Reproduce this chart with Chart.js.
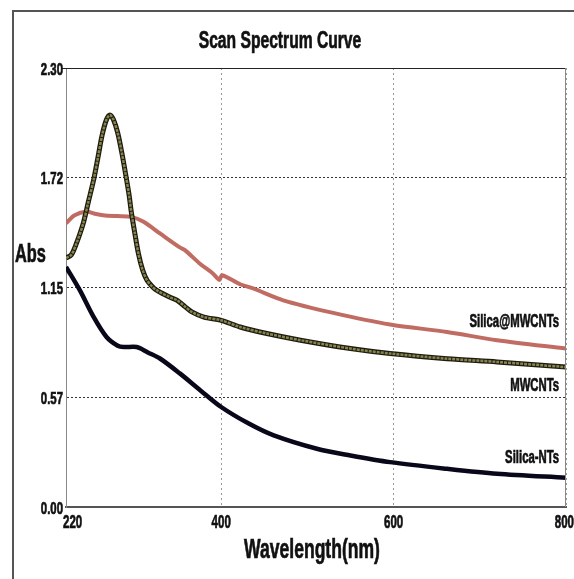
<!DOCTYPE html>
<html>
<head>
<meta charset="utf-8">
<script src="https://cdn.jsdelivr.net/npm/chart.js@4.4.1/dist/chart.umd.min.js"></script>
<style>
  html, body { margin: 0; padding: 0; background: #fff; }
  #wrap { position: relative; width: 574px; height: 579px; overflow: hidden; }
  #frame { position: absolute; left: 12px; top: 10px; width: 600px; height: 600px;
           border-left: 2px solid #555; border-top: 2px solid #555; }
  canvas { position: absolute; left: 0; top: 0; }
</style>
</head>
<body>
<div id="wrap">
  <div id="frame"></div>
  <canvas id="spectrum" width="574" height="579"></canvas>
</div>
<script>
// values
const xTicks = [220, 400, 600, 800];
const yTicks = [0, 0.575, 1.15, 1.725, 2.3];
const yTickLabels = ['0.00', '0.57', '1.15', '1.72', '2.30'];

const seriesNames = ['Silica@MWCNTs', 'MWCNTs', 'Silica-NTs'];

const wlMw = [220, 226, 232, 240, 246, 252, 257, 262, 267, 271, 275, 280, 285, 289, 293, 296, 300, 304, 309, 314, 320, 325, 340, 349, 358, 366, 380, 400, 422, 453, 492, 550, 596, 662, 720, 800];
const absMw = [1.305, 1.32, 1.38, 1.486, 1.60, 1.713, 1.83, 1.95, 2.03, 2.054, 2.03, 1.96, 1.85, 1.748, 1.64, 1.538, 1.43, 1.328, 1.24, 1.188, 1.155, 1.136, 1.10, 1.083, 1.05, 1.022, 0.995, 0.978, 0.943, 0.909, 0.874, 0.83, 0.804, 0.777, 0.76, 0.733];

const wlSiMw = [220, 230, 244, 255, 263, 279, 296, 310, 329, 352, 358, 375, 390, 398, 401, 422, 437, 472, 530, 596, 662, 720, 800];
const absSiMw = [1.486, 1.529, 1.547, 1.535, 1.529, 1.524, 1.52, 1.494, 1.433, 1.36, 1.346, 1.276, 1.225, 1.19, 1.214, 1.167, 1.145, 1.083, 1.017, 0.956, 0.917, 0.874, 0.83];

const wlSi = [220, 236, 252, 267, 280, 287, 302, 315, 329, 352, 376, 400, 432, 461, 511, 550, 596, 662, 720, 800];
const absSi = [1.258, 1.136, 0.996, 0.891, 0.845, 0.838, 0.838, 0.81, 0.778, 0.70, 0.611, 0.524, 0.437, 0.375, 0.305, 0.27, 0.235, 0.2, 0.174, 0.153];

const FONT = '"Liberation Sans", Arial, sans-serif';

function pts(xs, ys) {
    return xs.map((x, i) => ({ x: x, y: ys[i] }));
}

// Arial squeezed horizontally, to look like the narrow face of the original
function narrowText(ctx, text, x, y, size, sx, align) {
    ctx.save();
    ctx.font = 'bold ' + size + 'px ' + FONT;
    ctx.textAlign = align;
    ctx.translate(x, y);
    ctx.scale(sx, 1);
    ctx.fillText(text, 0, 0);
    ctx.lineWidth = 0.7;
    ctx.strokeStyle = '#111';
    ctx.strokeText(text, 0, 0);
    ctx.restore();
}

const annotations = {
    id: 'annotations',
    afterDraw(chart) {
        const { ctx, chartArea: a, scales } = chart;
        ctx.save();
        // plot frame: top line black, right side gray
        ctx.lineWidth = 1;
        ctx.strokeStyle = '#222';
        ctx.beginPath();
        ctx.moveTo(a.left - 4, a.top + 0.5);
        ctx.lineTo(a.right, a.top + 0.5);
        ctx.stroke();
        ctx.strokeStyle = '#888';
        ctx.beginPath();
        ctx.moveTo(a.right - 0.5, a.top);
        ctx.lineTo(a.right - 0.5, a.bottom);
        ctx.stroke();

        ctx.fillStyle = '#111';
        ctx.textBaseline = 'alphabetic';

        narrowText(ctx, 'Scan Spectrum Curve', 280, 48, 23, 0.68, 'center');
        narrowText(ctx, 'Abs', 15, 262, 26, 0.63, 'left');
        narrowText(ctx, 'Wavelength(nm)', 312, 558, 27, 0.65, 'center');

        // tick labels
        yTicks.forEach((v, i) => {
            const py = scales.y.getPixelForValue(v);
            narrowText(ctx, yTickLabels[i], a.left - 3, py + 6.5, 17, 0.67, 'right');
        });
        xTicks.forEach((v, i) => {
            let px = scales.x.getPixelForValue(v);
            let align = 'center';
            if (i === 0) { px = px - 3; align = 'left'; }
            if (i === xTicks.length - 1) { px = 574; align = 'right'; }
            narrowText(ctx, String(v), px, 528, 18, 0.64, align);
        });

        // curve names at the right end
        const anchors = [[792, 0.943], [792, 0.61], [792, 0.228]];
        seriesNames.forEach((name, i) => {
            const px = scales.x.getPixelForValue(anchors[i][0]);
            const py = scales.y.getPixelForValue(anchors[i][1]);
            narrowText(ctx, name, px, py, 18, 0.63, 'right');
        });
        ctx.restore();
    }
};

new Chart(document.getElementById('spectrum'), {
    type: 'line',
    data: {
        datasets: [
            {
                label: seriesNames[0],
                data: pts(wlSiMw, absSiMw),
                borderColor: 'rgb(192, 108, 98)',
                borderWidth: 4,
                pointRadius: 0,
                tension: 0.3,
                order: 3
            },
            {
                label: seriesNames[1] + ' edge',
                data: pts(wlMw, absMw),
                borderColor: '#1c1c10',
                borderWidth: 5,
                pointRadius: 0,
                tension: 0.3,
                order: 1
            },
            {
                label: seriesNames[1],
                data: pts(wlMw, absMw),
                borderColor: 'rgb(136, 132, 80)',
                borderWidth: 2.5,
                borderDash: [3, 1],
                pointRadius: 0,
                tension: 0.3,
                order: 0
            },
            {
                label: seriesNames[2],
                data: pts(wlSi, absSi),
                borderColor: '#08081a',
                borderWidth: 4.5,
                pointRadius: 0,
                tension: 0.3,
                order: 2
            }
        ]
    },
    options: {
        responsive: false,
        animation: false,
        layout: { padding: { left: 0, top: 68, right: 8, bottom: 0 } },
        plugins: {
            legend: { display: false },
            tooltip: { enabled: false }
        },
        scales: {
            x: {
                type: 'linear',
                min: 220,
                max: 800,
                afterBuildTicks(scale) {
                    scale.ticks = xTicks.map(v => ({ value: v }));
                },
                afterFit(scale) { scale.height = 72; },
                ticks: { display: false },
                grid: {
                    color: '#999',
                    lineWidth: 1,
                    drawTicks: false
                },
                border: { color: '#555', width: 2, dash: [2, 3] }
            },
            y: {
                min: 0,
                max: 2.3,
                afterBuildTicks(scale) {
                    scale.ticks = yTicks.map(v => ({ value: v }));
                },
                afterFit(scale) { scale.width = 66; },
                ticks: { display: false },
                grid: {
                    color: '#333',
                    lineWidth: 1,
                    drawTicks: false
                },
                border: { color: '#888', width: 1, dash: [2, 2] }
            }
        }
    },
    plugins: [annotations]
});
</script>
</body>
</html>
